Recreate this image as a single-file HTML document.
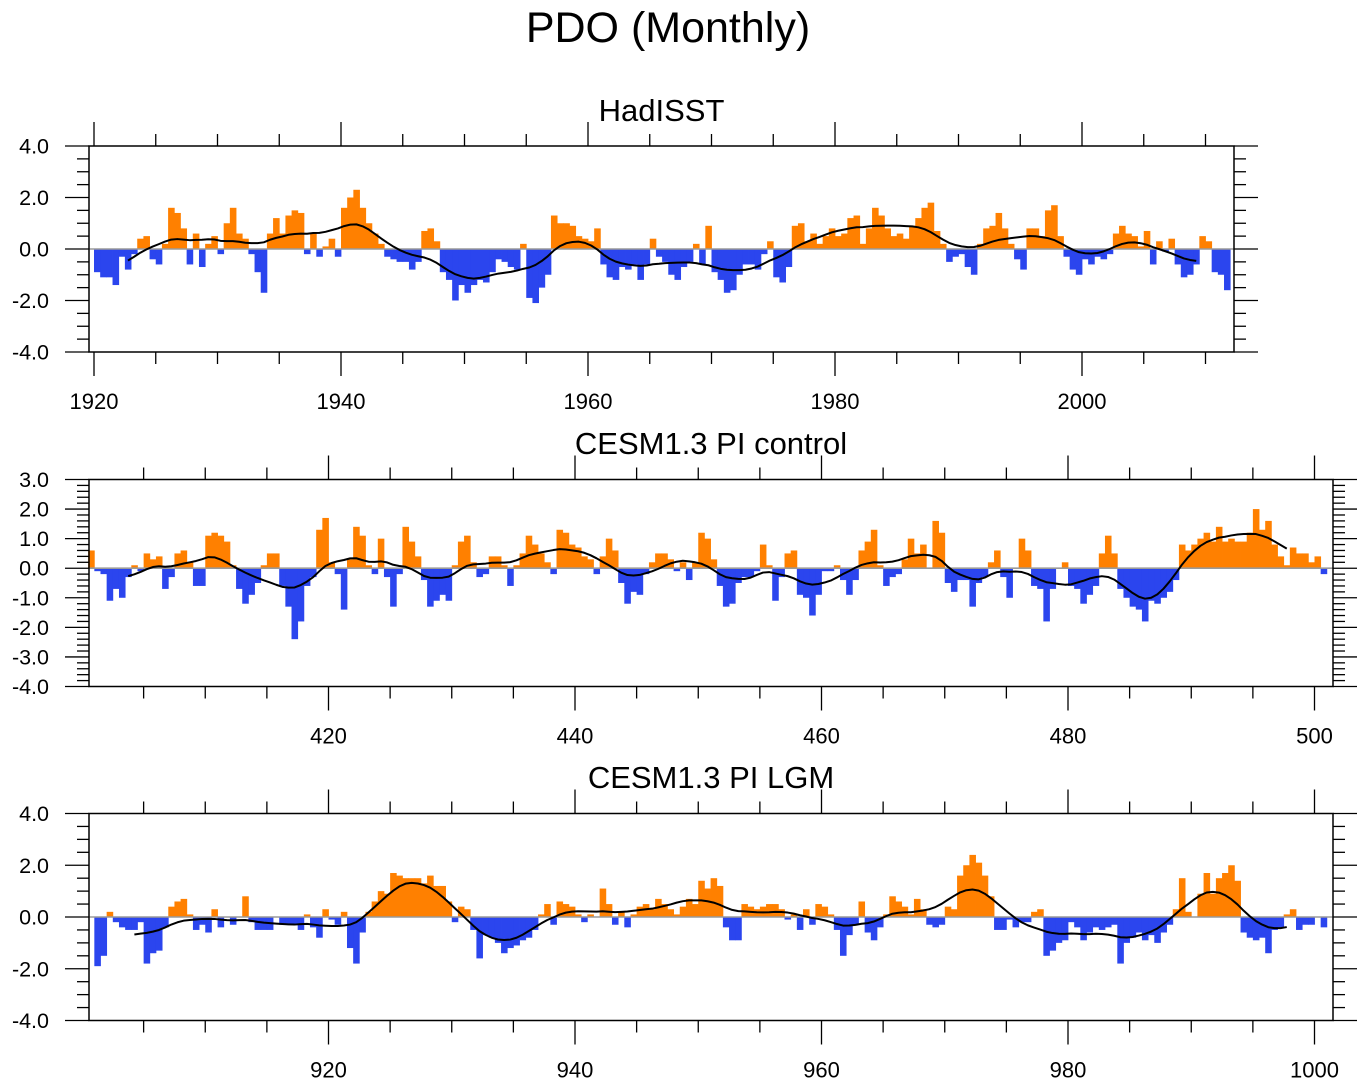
<!DOCTYPE html>
<html><head><meta charset="utf-8"><style>
html,body{margin:0;padding:0;background:#fff;}
svg{display:block;font-family:"Liberation Sans",Arial,sans-serif;}
</style></head><body>
<svg id="chart" width="1365" height="1088" viewBox="0 0 1365 1088">
<text x="668" y="42" font-size="43" text-anchor="middle">PDO (Monthly)</text>
</svg>
<script>
// ===== Data: half-yearly PDO index =====
const hadStart = 1920.0;
const hadValues = [
-0.9,-1.1,-1.1,-1.4,-0.3,-0.8,-0.2,0.4,0.5,-0.4,-0.6,0.2,1.6,1.4,0.8,-0.6,0.6,-0.7,0.2,0.5,
-0.2,1.0,1.6,0.6,0.4,-0.2,-0.9,-1.7,0.6,1.2,0.6,1.3,1.5,1.4,-0.2,0.6,-0.3,0.1,0.4,-0.3,
1.6,2.0,2.3,1.6,1.0,0.6,0.2,-0.3,-0.4,-0.5,-0.5,-0.8,-0.5,0.7,0.8,0.3,-0.9,-1.2,-2.0,-1.4,
-1.7,-1.4,-1.2,-1.3,-0.9,-0.4,-0.5,-0.7,-0.8,0.2,-1.9,-2.1,-1.5,-1.0,1.3,1.0,1.0,0.9,0.5,0.4,
0.3,0.8,-0.6,-1.1,-1.2,-0.7,-0.8,-0.6,-1.2,-0.6,0.4,-0.3,-0.5,-1.0,-1.2,-0.7,-0.5,0.2,-0.6,0.9,
-0.9,-1.2,-1.7,-1.6,-1.0,-0.6,-0.6,-0.8,-0.2,0.3,-1.1,-1.3,-0.7,0.9,1.0,0.3,0.6,0.2,0.5,0.8,
0.5,0.6,1.2,1.3,0.2,0.8,1.6,1.3,0.8,0.5,0.6,0.4,0.9,1.2,1.6,1.8,0.7,0.2,-0.5,-0.3,
-0.2,-0.7,-1.0,0.2,0.8,0.9,1.4,0.8,0.2,-0.4,-0.8,0.8,0.8,0.5,1.5,1.7,0.5,-0.3,-0.8,-1.0,
-0.4,-0.6,-0.3,-0.4,-0.2,0.6,0.9,0.6,0.5,0.1,0.7,-0.6,0.3,-0.1,0.4,-0.6,-1.1,-1.0,-0.6,0.5,
0.3,-0.9,-1.0,-1.6
];
const ctlStart = 400.5;
const ctlValues = [
0.6,-0.1,-0.2,-1.1,-0.7,-1.0,-0.3,0.1,-0.1,0.5,0.3,0.4,-0.7,-0.3,0.5,0.6,0.2,-0.6,-0.6,1.1,
1.2,1.1,0.9,0.1,-0.7,-1.2,-0.9,-0.5,0.1,0.5,0.5,-0.6,-1.3,-2.4,-1.8,-0.6,-0.3,1.3,1.7,0.2,
-0.2,-1.4,0.3,1.4,1.1,0.1,-0.2,1.0,-0.3,-1.3,-0.2,1.4,0.9,0.4,-0.4,-1.3,-1.1,-0.9,-1.1,0.1,
0.9,1.1,0.2,-0.3,-0.2,0.4,0.4,0.1,-0.6,0.1,0.5,1.1,0.8,0.5,0.2,-0.2,1.3,1.2,0.8,0.7,
0.4,0.3,-0.2,0.4,1.0,0.6,-0.5,-1.2,-0.8,-0.9,-0.2,0.2,0.5,0.5,0.3,-0.1,0.2,-0.4,0.2,1.2,
1.0,0.3,-0.6,-1.3,-1.2,-0.5,-0.3,-0.3,-0.1,0.8,0.1,-1.1,-0.3,0.5,0.6,-0.9,-1.0,-1.6,-0.9,-0.1,
-0.1,0.1,-0.4,-0.9,-0.4,0.6,0.9,1.3,0.1,-0.6,-0.3,-0.2,0.3,1.0,0.5,0.8,0.0,1.6,1.2,-0.5,
-0.8,-0.4,-0.4,-1.3,-0.5,-0.3,0.2,0.6,-0.3,-1.0,0.0,1.0,0.6,-0.6,-0.7,-1.8,-0.7,0.0,0.2,-0.6,
-0.7,-1.2,-0.9,-0.6,0.5,1.1,0.5,-0.7,-1.0,-1.3,-1.4,-1.8,-1.1,-1.2,-1.0,-0.8,-0.4,0.8,0.6,0.8,
1.0,1.2,0.9,1.4,0.9,1.0,0.9,0.9,1.2,2.0,1.3,1.6,0.8,0.4,0.1,0.7,0.5,0.5,0.2,0.4,-0.2
];
const lgmStart = 901.0;
const lgmValues = [
-1.9,-1.5,0.2,-0.2,-0.4,-0.5,-0.5,-0.2,-1.8,-1.4,-1.3,-0.4,0.4,0.6,0.7,0.1,-0.5,-0.3,-0.6,0.3,
-0.4,0.0,-0.3,0.0,0.8,-0.2,-0.5,-0.5,-0.5,0.0,-0.3,-0.3,-0.3,-0.5,0.1,-0.4,-0.8,0.3,-0.1,-0.3,
0.2,-1.2,-1.8,-0.6,0.2,0.6,1.0,0.9,1.7,1.6,1.5,1.5,1.5,1.3,1.6,1.2,1.2,0.6,-0.2,0.4,
0.3,-0.5,-1.6,-0.7,-0.8,-1.0,-1.4,-1.2,-1.1,-0.9,-0.8,-0.5,0.1,0.5,-0.3,0.6,0.5,0.4,0.1,-0.2,
0.1,0.0,1.1,0.5,-0.3,0.2,-0.4,0.1,0.4,0.5,0.3,0.7,0.5,0.3,0.1,0.4,0.7,0.5,1.4,1.1,
1.5,1.2,-0.4,-0.9,-0.9,0.5,0.4,0.3,0.4,0.5,0.5,0.3,-0.1,0.1,-0.5,0.3,-0.3,0.5,0.4,0.1,
-0.5,-1.5,-0.7,-0.3,0.6,-0.6,-0.9,-0.4,0.1,0.8,0.6,0.4,0.1,0.7,0.3,-0.3,-0.4,-0.3,0.4,0.3,
1.6,2.0,2.4,2.1,1.6,0.8,-0.5,-0.5,-0.1,-0.4,-0.2,-0.2,0.2,0.3,-1.5,-1.3,-1.0,-0.9,-0.2,-0.4,
-0.9,-0.6,-0.4,-0.5,-0.4,-0.3,-1.8,-1.0,-0.8,-0.6,-0.9,-0.7,-1.0,-0.6,-0.3,0.3,1.5,0.2,0.0,0.9,
1.7,0.9,1.5,1.7,2.0,1.4,-0.6,-0.8,-0.9,-0.8,-1.4,-0.5,-0.4,0.1,0.3,-0.5,-0.3,-0.3,0.0,-0.4
];
const hadYTicks = [4,2,0,-2,-4];
const hadYLabels = ["4.0","2.0","0.0","-2.0","-4.0"];
const ctlYTicks = [3,2,1,0,-1,-2,-3,-4];
const ctlYLabels = ["3.0","2.0","1.0","0.0","-1.0","-2.0","-3.0","-4.0"];
const hadXTicks = [1920,1940,1960,1980,2000];
const hadXLabels = ["1920","1940","1960","1980","2000"];
const ctlXTicks = [420,440,460,480,500];
const ctlXLabels = ["420","440","460","480","500"];
const lgmXTicks = [920,940,960,980,1000];
const lgmXLabels = ["920","940","960","980","1000"];

const NS = "http://www.w3.org/2000/svg";
const svg = document.getElementById('chart');
function mk(tag, attrs, parent){
  const e = document.createElementNS(NS, tag);
  for (const k in attrs) e.setAttribute(k, attrs[k]);
  (parent||svg).appendChild(e);
  return e;
}

function panel(cfg){
  const g = mk('g', {});
  
  
  const L=cfg.left, R=cfg.right, T=cfg.top, B=cfg.bottom;
  const xs = v => cfg.x0px + (v - cfg.x0) * cfg.pxPerYear;
  const ys = v => T + (cfg.ymax - v) / (cfg.ymax - cfg.ymin) * (B - T);
  const t = mk('text', {x:(L+R)/2, y:cfg.titleY, 'font-size':31, 'text-anchor':'middle'}, g);
  t.textContent = cfg.title;
  
  
  const bars = mk('g', {}, g);
  
  
  const step = 0.5;
  const w = step * cfg.pxPerYear;
  const y0 = ys(0);
  cfg.values.forEach((v,i)=>{
    const yr = cfg.start + i*step;
    const x = xs(yr);
    const yv = ys(v);
    const r = mk('rect', {x:x.toFixed(2), y:Math.min(yv,y0).toFixed(2), width:(w+0.4).toFixed(2),
      height:Math.abs(yv-y0).toFixed(2), fill: v>=0 ? '#ff8000' : '#2b45ee'}, bars);
    
    
  });
  const zl = mk('line', {x1:L, x2:R, y1:y0, y2:y0, stroke:'#9a9a9a', 'stroke-width':1.6}, g);
  
  
  const h = cfg.h, pts = [];
  for (let i=cfg.trim; i<cfg.values.length-cfg.trim; i++){
    let s=0,n=0;
    for (let j=i-h;j<=i+h;j++){ if(j>=0&&j<cfg.values.length){
      const wgt = 1 - Math.abs(j-i)/(h+1); s+=cfg.values[j]*wgt; n+=wgt; } }
    pts.push(xs(cfg.start+i*step+0.25).toFixed(2)+','+ys(s/n).toFixed(2));
  }
  const pl = mk('polyline', {points:pts.join(' '), fill:'none', stroke:'#000', 'stroke-width':2, 'stroke-linejoin':'round'}, g);
  
  
  const fr = mk('rect', {x:L, y:T, width:R-L, height:B-T, fill:'none', stroke:'#000', 'stroke-width':1.5}, g);
  
  
  const yax = mk('g', {stroke:'#000', 'stroke-width':1.3}, g);
  
  
  for (let v=cfg.ymin; v<=cfg.ymax+1e-9; v+=cfg.yminor){
    const yy = ys(v);
    const major = cfg.yTicks.some(t=>Math.abs(t-v)<1e-6);
    const len = major ? 24 : 12;
    mk('line', {x1:L-len, x2:L, y1:yy, y2:yy}, yax);
    mk('line', {x1:R, x2:R+len, y1:yy, y2:yy}, yax);
  }
  cfg.yTicks.forEach((v,i)=>{
    const tx = mk('text', {x:49, y:ys(v)+7.5, 'font-size':21.5, 'text-anchor':'end', stroke:'none'}, g);
    tx.textContent = cfg.yLabels[i];
    
    
  });
  const xax = mk('g', {stroke:'#000', 'stroke-width':1.3}, g);
  
  
  for (let yr=cfg.xminorStart; yr<=cfg.xminorEnd; yr+=5){
    const xx = xs(yr);
    if (xx < L-1 || xx > R+1) continue;
    const major = cfg.xTicks.indexOf(yr) >= 0;
    const len = major ? 24 : 12;
    mk('line', {x1:xx, x2:xx, y1:T-len, y2:T}, xax);
    mk('line', {x1:xx, x2:xx, y1:B, y2:B+len}, xax);
  }
  cfg.xTicks.forEach((v,i)=>{
    const tx = mk('text', {x:xs(v), y:B+57, 'font-size':22, 'text-anchor':'middle'}, g);
    tx.textContent = cfg.xLabels[i];
    
    
  });
}

panel({name:'hadisst-panel', title:'HadISST', titleY:121, left:89, right:1234, top:146, bottom:352,
  ymin:-4, ymax:4, yminor:0.5, yTicks:hadYTicks, yLabels:hadYLabels,
  x0:1920, x0px:94, pxPerYear:12.35, xTicks:hadXTicks, xLabels:hadXLabels, xminorStart:1920, xminorEnd:2010,
  start:hadStart, values:hadValues, h:7, trim:5});
panel({name:'cesm-pi-control-panel', title:'CESM1.3 PI control', titleY:454, left:89, right:1333, top:479.5, bottom:686.5,
  ymin:-4, ymax:3, yminor:0.2, yTicks:ctlYTicks, yLabels:ctlYLabels,
  x0:420, x0px:328.5, pxPerYear:12.325, xTicks:ctlXTicks, xLabels:ctlXLabels, xminorStart:400, xminorEnd:500,
  start:ctlStart, values:ctlValues, h:6, trim:6});
panel({name:'cesm-pi-lgm-panel', title:'CESM1.3 PI LGM', titleY:788, left:89, right:1333, top:813.5, bottom:1020.5,
  ymin:-4, ymax:4, yminor:0.5, yTicks:hadYTicks, yLabels:hadYLabels,
  x0:920, x0px:328.5, pxPerYear:12.325, xTicks:lgmXTicks, xLabels:lgmXLabels, xminorStart:900, xminorEnd:1000,
  start:lgmStart, values:lgmValues, h:7, trim:6});
</script>
</body></html>
